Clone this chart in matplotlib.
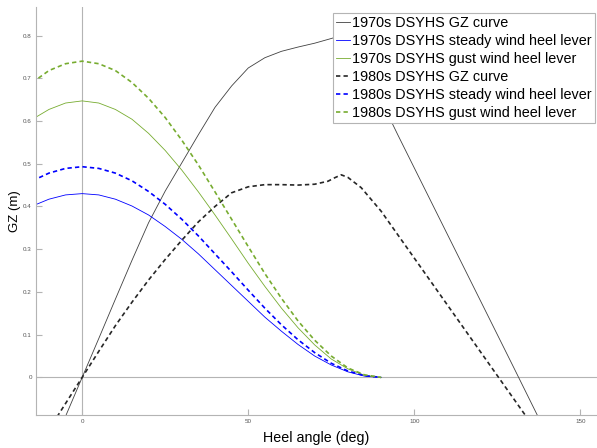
import matplotlib
matplotlib.use("Agg")
import matplotlib.pyplot as plt

plt.rcParams["font.family"] = ["Liberation Sans", "DejaVu Sans"]

# heel angles (deg) for the wind heel levers
lever_angle = [-15, -10, -5, 0, 5, 10, 15, 20, 25, 30, 35, 40, 45, 50, 55,
               60, 65, 70, 75, 80, 85, 90]
steady_70 = [0.401, 0.417, 0.427, 0.430, 0.427, 0.417, 0.401, 0.380, 0.353,
             0.323, 0.289, 0.252, 0.215, 0.178, 0.141, 0.108, 0.077, 0.050,
             0.029, 0.013, 0.003, 0.0]
gust_70 = [0.604, 0.627, 0.642, 0.647, 0.642, 0.627, 0.604, 0.571, 0.531,
           0.485, 0.434, 0.380, 0.324, 0.267, 0.213, 0.162, 0.116, 0.076,
           0.043, 0.020, 0.005, 0.0]
steady_80 = [0.460, 0.478, 0.489, 0.493, 0.489, 0.478, 0.460, 0.435, 0.405,
             0.370, 0.331, 0.289, 0.247, 0.204, 0.162, 0.123, 0.088, 0.058,
             0.033, 0.015, 0.004, 0.0]
gust_80 = [0.690, 0.718, 0.734, 0.740, 0.734, 0.718, 0.690, 0.653, 0.608,
           0.555, 0.497, 0.434, 0.370, 0.306, 0.243, 0.185, 0.132, 0.087,
           0.050, 0.022, 0.006, 0.0]

# righting arm curves
gz_angle_70 = [-10, -5, 0, 5, 10, 15, 20, 25, 30, 35, 40, 45, 50, 55, 60, 65,
               70, 75, 78, 80, 85, 90, 95, 100, 110, 120, 130, 140]
gz_70 = [-0.183, -0.091, 0.0, 0.091, 0.183, 0.274, 0.362, 0.436, 0.502,
         0.568, 0.632, 0.682, 0.724, 0.748, 0.763, 0.773, 0.782, 0.793, 0.800,
         0.787, 0.720, 0.648, 0.568, 0.490, 0.334, 0.178, 0.022, -0.135]
gz_angle_80 = [-10, -5, 0, 5, 10, 15, 20, 25, 30, 35, 40, 45, 50, 55, 60, 65,
               70, 74, 76, 78, 80, 84, 90, 100, 110, 120, 130, 140]
gz_80 = [-0.122, -0.061, 0.0, 0.061, 0.121, 0.176, 0.228, 0.276, 0.321,
         0.364, 0.400, 0.432, 0.446, 0.451, 0.451, 0.450, 0.452, 0.459, 0.467,
         0.474, 0.468, 0.444, 0.389, 0.279, 0.169, 0.059, -0.051, -0.161]

x_ticks = [0, 50, 100, 150]
y_ticks = [0, 0.1, 0.2, 0.3, 0.4, 0.5, 0.6, 0.7, 0.8]
y_ticklabels = ["0", "0.1", "0.2", "0.3", "0.4", "0.5", "0.6", "0.7", "0.8"]

GREEN = "#77ac30"
AXGREY = "#b4b4b4"

fig = plt.figure(figsize=(5.97, 4.48), dpi=100)
ax = fig.add_axes([36 / 597, 33 / 448, 561 / 597, 407.7 / 448])

ax.axhline(0, color=AXGREY, lw=0.8, zorder=1)
ax.axvline(0, color=AXGREY, lw=0.8, zorder=1)

thin = 0.6
dash = dict(lw=1.2, dashes=(2.6, 1.9))
ax.plot(gz_angle_70, gz_70, color="#404040", lw=thin, label="1970s DSYHS GZ curve")
ax.plot(lever_angle, steady_70, color="#0000ff", lw=thin,
        label="1970s DSYHS steady wind heel lever")
ax.plot(lever_angle, gust_70, color=GREEN, lw=thin,
        label="1970s DSYHS gust wind heel lever")
ax.plot(gz_angle_80, gz_80, color="#262626", label="1980s DSYHS GZ curve", **dash)
ax.plot(lever_angle, steady_80, color="#0000ff",
        label="1980s DSYHS steady wind heel lever", **dash)
ax.plot(lever_angle, gust_80, color=GREEN,
        label="1980s DSYHS gust wind heel lever", **dash)

ax.set_xlim(-13.9, 155)
ax.set_ylim(-0.088, 0.866)
ax.set_xticks(x_ticks)
ax.set_yticks(y_ticks)
ax.set_yticklabels(y_ticklabels)
ax.tick_params(direction="in", length=4, width=0.8, color=AXGREY,
               labelsize=4.5, labelcolor="#555555", pad=3)

for s in ("top", "right"):
    ax.spines[s].set_visible(False)
for s in ("left", "bottom"):
    ax.spines[s].set_color(AXGREY)
    ax.spines[s].set_linewidth(0.8)

ax.set_xlabel("Heel angle (deg)", fontsize=10.3, labelpad=5)
ax.set_ylabel("GZ (m)", fontsize=9.5, labelpad=1.5)

leg = ax.legend(loc="upper right", bbox_to_anchor=(595 / 597, 1 - 12.7 / 448),
                bbox_transform=fig.transFigure, borderaxespad=0,
                fontsize=10.4, handlelength=1.0, handletextpad=0.15,
                borderpad=0.21, labelspacing=0.28, fancybox=False, framealpha=1)
leg.get_frame().set_edgecolor(AXGREY)
leg.get_frame().set_linewidth(0.8)

fig.savefig("out.png", dpi=100)
